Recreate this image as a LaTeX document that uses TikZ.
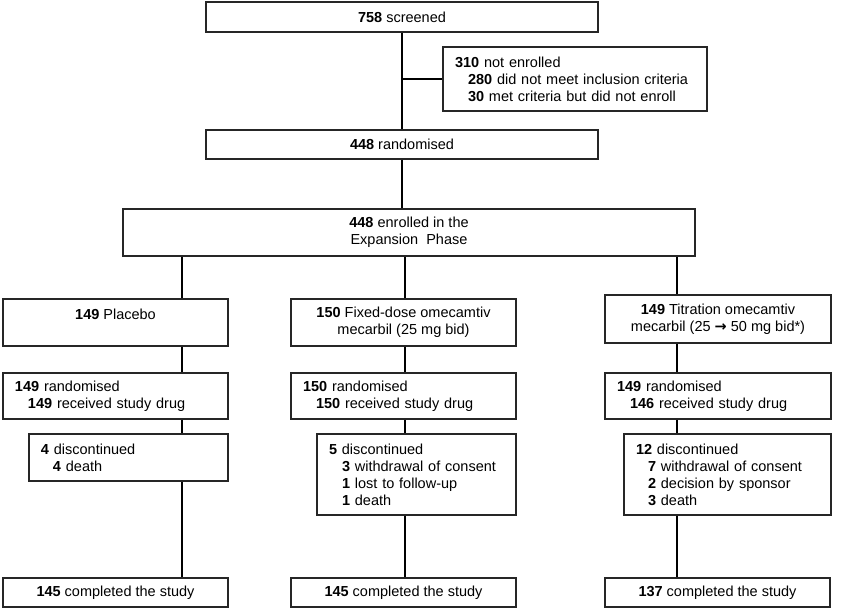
\documentclass[tikz,border=0pt]{standalone}
\usepackage{fontspec}
\setmainfont{Liberation Sans}
\newfontfamily\arrowfont{DejaVu Sans}
\usepackage{tikz}
\usetikzlibrary{calc}

\begin{document}
\begin{tikzpicture}[
    x=1pt, y=-1pt,
    box/.style={rectangle, draw=black!85, line width=1.1pt, inner xsep=12pt, inner ysep=0pt,
                font=\fontsize{14.5}{17}\selectfont},
    cbox/.style={box, align=center},
    lbox/.style={box, align=left},
    flow/.style={line width=2pt, color=black}
  ]
    \useasboundingbox (0,0) rectangle (847,609);

    % screening and randomisation
    \node[cbox, minimum width=392pt, minimum height=30pt] (screen) at (402,17) {\textbf{758} screened};
    \node[lbox, text width=240pt, minimum height=64pt] (notenr) at (575,79)
        {\textbf{310} not enrolled\\
         \hspace*{13pt}\textbf{280} did not meet inclusion criteria\\
         \hspace*{13pt}\textbf{30} met criteria but did not enroll};
    \node[cbox, minimum width=392pt, minimum height=29pt] (rand) at (402,144.5) {\textbf{448} randomised};
    \node[cbox, minimum width=572pt, minimum height=47pt, line width=2.5pt] (enrol) at (409,232.5)
        {\textbf{448} enrolled in the\\Expansion\ \ Phase};

    % treatment arms
    \coordinate (colA) at (182,0);
    \coordinate (colB) at (405,0);
    \coordinate (colC) at (677,0);

    \node[cbox, minimum width=225pt, minimum height=47pt] (plac)  at (115.5,322.5) {\textbf{149} Placebo\\\mbox{}};
    \node[cbox, minimum width=225pt, minimum height=47pt] (fixed) at (403.5,322.5)
        {\textbf{150} Fixed-dose omecamtiv\\mecarbil (25 mg bid)};
    \node[cbox, minimum width=226pt, minimum height=48pt] (titr)  at (718,319)
        {\textbf{149} Titration omecamtiv\\mecarbil (25 {\arrowfont\bfseries →} 50 mg bid*)};

    \node[lbox, text width=201pt, minimum height=46pt] (randA) at (115.5,396)
        {\textbf{149} randomised\\\hspace*{13pt}\textbf{149} received study drug};
    \node[lbox, text width=201pt, minimum height=46pt] (randB) at (403.5,396)
        {\textbf{150} randomised\\\hspace*{13pt}\textbf{150} received study drug};
    \node[lbox, text width=202pt, minimum height=46pt] (randC) at (718,396)
        {\textbf{149} randomised\\\hspace*{13pt}\textbf{146} received study drug};

    \node[lbox, text width=175pt, minimum height=47pt] (discA) at (128.5,457.5)
        {\textbf{4} discontinued\\\hspace*{12pt}\textbf{4} death};
    \node[lbox, text width=175pt, minimum height=81pt] (discB) at (416.5,474.5)
        {\textbf{5} discontinued\\
         \hspace*{13pt}\textbf{3} withdrawal of consent\\
         \hspace*{13pt}\textbf{1} lost to follow-up\\
         \hspace*{13pt}\textbf{1} death};
    \node[lbox, text width=183pt, minimum height=81pt] (discC) at (727.5,474.5)
        {\textbf{12} discontinued\\
         \hspace*{12pt}\textbf{7} withdrawal of consent\\
         \hspace*{12pt}\textbf{2} decision by sponsor\\
         \hspace*{12pt}\textbf{3} death};

    \node[cbox, minimum width=225pt, minimum height=29pt] (compA) at (115.5,592.5) {\textbf{145} completed the study};
    \node[cbox, minimum width=225pt, minimum height=29pt] (compB) at (403.5,592.5) {\textbf{145} completed the study};
    \node[cbox, minimum width=225pt, minimum height=29pt] (compC) at (717.5,592.5) {\textbf{137} completed the study};

    % connectors
    \draw[flow] (screen.south) -- (rand.north);
    \draw[line width=1.5pt] (screen.south |- notenr.west) -- (notenr.west);
    \draw[flow] (rand.south) -- (enrol.north -| rand.south);

    \draw[flow] (enrol.south -| colA) -- (plac.north -| colA);
    \draw[flow] (enrol.south -| colB) -- (fixed.north -| colB);
    \draw[flow] (enrol.south -| colC) -- (titr.north -| colC);

    \draw[flow] (plac.south -| colA)  -- (randA.north -| colA);
    \draw[flow] (fixed.south -| colB) -- (randB.north -| colB);
    \draw[flow] (titr.south -| colC)  -- (randC.north -| colC);

    \draw[flow] (randA.south -| colA) -- (discA.north -| colA);
    \draw[flow] (randB.south -| colB) -- (discB.north -| colB);
    \draw[flow] (randC.south -| colC) -- (discC.north -| colC);

    \draw[flow] (discA.south -| colA) -- (compA.north -| colA);
    \draw[flow] (discB.south -| colB) -- (compB.north -| colB);
    \draw[flow] (discC.south -| colC) -- (compC.north -| colC);
\end{tikzpicture}
\end{document}
